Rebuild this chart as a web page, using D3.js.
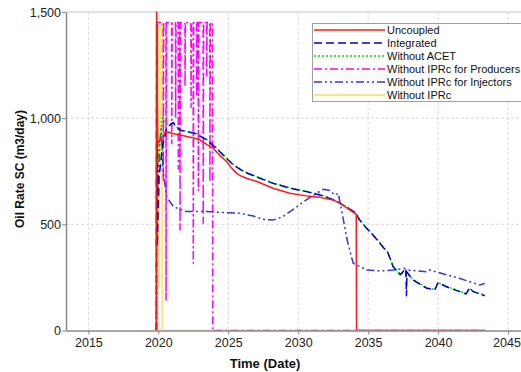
<!DOCTYPE html>
<html>
<head>
<meta charset="utf-8">
<script src="https://cdn.jsdelivr.net/npm/d3@7"></script>
<style>
  html, body { margin: 0; padding: 0; background: #fff; }
  svg { display: block; font-family: "Liberation Sans", Arial, sans-serif; }
</style>
</head>
<body>
<svg id="chart" width="521" height="372"></svg>
<script>
// ---- data: [year, oil rate (m3/day)] ----
const yTicks = [0, 500, 1000, 1500];
const xTicks = [2015, 2020, 2025, 2030, 2035, 2040, 2045];

const uncoupled = [
  [2019.86, 0], [2019.88, 1500], [2019.95, 880], [2020.2, 905], [2020.5, 934], [2020.7, 935],
  [2021.0, 928], [2021.55, 921], [2022.6, 905], [2023.0, 897], [2023.5, 874], [2023.9, 860],
  [2024.4, 825], [2024.9, 795], [2025.2, 768], [2025.6, 740], [2025.9, 728], [2026.3, 717],
  [2027.0, 703], [2028.2, 670], [2029.4, 646], [2030.6, 634], [2031.55, 627], [2032.5, 615],
  [2033.0, 599], [2034.05, 552], [2034.15, 548], [2034.17, 0], [2043.4, 0]
];

const integrated = [
  [2019.86, 0], [2019.88, 1440], [2019.93, 400], [2020.05, 720], [2020.3, 870], [2020.6, 955],
  [2021.07, 979], [2021.55, 943], [2022.6, 929], [2023.5, 897], [2024.4, 842], [2025.36, 780],
  [2026.1, 748], [2027.0, 724], [2028.2, 693], [2029.4, 670], [2030.6, 654], [2031.55, 638],
  [2032.1, 626], [2032.5, 616], [2033.0, 599], [2034.05, 557], [2034.4, 520], [2034.89, 481],
  [2035.24, 458], [2035.84, 411], [2036.43, 364], [2036.79, 300], [2037.3, 263], [2037.7, 293],
  [2037.74, 164], [2037.78, 275], [2038.2, 238], [2039.2, 199], [2039.76, 191], [2040.0, 225],
  [2040.6, 206], [2041.55, 183], [2042.0, 172], [2042.26, 202], [2042.5, 183], [2043.34, 164]
];

const withoutAcet = [
  [2019.87, 0], [2019.89, 1440], [2019.95, 780], [2020.1, 900], [2020.3, 1010], [2020.6, 970],
  [2021.0, 976], [2021.55, 945], [2022.6, 931], [2023.5, 899], [2024.4, 844], [2025.36, 782],
  [2026.1, 750], [2027.0, 726], [2028.2, 695], [2029.4, 672], [2030.6, 656], [2031.55, 640],
  [2032.1, 628], [2032.5, 617], [2033.0, 600], [2034.05, 558], [2034.4, 522], [2034.89, 483],
  [2035.24, 460], [2035.84, 413], [2036.43, 366], [2036.79, 302], [2037.3, 266], [2037.7, 275],
  [2038.2, 240], [2039.2, 201], [2039.76, 193], [2040.0, 226], [2040.6, 208], [2041.55, 185],
  [2042.0, 174], [2042.26, 198], [2042.5, 185], [2043.34, 166]
];

// drops of the producer-IPR case: [year, lowest rate reached]
const producerDrops = [
  [2020.36, 700], [2020.55, 144], [2020.96, 880], [2021.24, 1000], [2021.43, 760],
  [2021.55, 473], [2021.91, 1150], [2022.34, 1050], [2022.5, 317], [2022.74, 1100],
  [2022.86, 660], [2023.21, 505], [2023.46, 1200], [2023.69, 700]
];
const producerStart = [[2019.87, 0], [2019.89, 1450]];
const producerEnd = [[2023.87, 1450], [2023.89, 0], [2043.4, 0]];

const withoutInjectors = [
  [2019.87, 0], [2019.89, 1440], [2019.95, 650], [2020.1, 880], [2020.2, 950], [2020.36, 740],
  [2020.6, 630], [2021.07, 583], [2022.0, 560], [2023.46, 560], [2024.9, 555], [2025.8, 552],
  [2026.8, 539], [2027.5, 524], [2028.2, 520], [2028.9, 536], [2029.6, 568], [2030.4, 607],
  [2031.1, 638], [2031.8, 665], [2032.3, 659], [2032.6, 638], [2032.86, 646], [2033.1, 568],
  [2033.5, 426], [2033.93, 317], [2034.9, 285], [2035.84, 280], [2036.8, 285], [2037.68, 293],
  [2037.72, 261], [2037.76, 285], [2039.2, 277], [2039.4, 285], [2040.1, 272], [2041.5, 246],
  [2043.0, 214], [2043.34, 222]
];

const withoutIprc = [
  [2019.86, 0], [2019.88, 1450], [2019.91, 300], [2019.93, 1450], [2019.96, 600], [2019.98, 1450],
  [2020.01, 400], [2020.03, 1450], [2020.07, 200], [2020.09, 1450], [2020.13, 750], [2020.15, 1450],
  [2020.2, 900], [2020.22, 1450], [2020.28, 1450], [2020.29, 0], [2043.4, 0]
];

// assemble the producer series from its drops
const withoutProducers = producerStart.slice();
producerDrops.forEach(([t, low]) => {
  withoutProducers.push([t - 0.01, 1450], [t, low], [t + 0.03, 1450]);
});
producerEnd.forEach(p => withoutProducers.push(p));

const series = [
  { name: "Uncoupled", data: uncoupled, color: "#ff1a1a", dash: null, width: 1.5, z: 5 },
  { name: "Integrated", data: integrated, color: "#0000c8", dash: "8,4", width: 1.5, z: 4 },
  { name: "Without ACET", data: withoutAcet, color: "#00dd00", dash: "2,2", width: 1.5, z: 3 },
  { name: "Without IPRc for Producers", data: withoutProducers, color: "#ff00ff", dash: "8,3,2,3", width: 1.5, z: 1 },
  { name: "Without IPRc for Injectors", data: withoutInjectors, color: "#3535d8", dash: "8,3,2,3,2,3", width: 1.5, z: 2 },
  { name: "Without IPRc", data: withoutIprc, color: "#f9e48c", dash: null, width: 2, z: 0 }
];

// ---- layout ----
const svg = d3.select("#chart");
const plot = { left: 66, right: 521, top: 12, bottom: 330.5 };

const x = d3.scaleLinear().domain([2013.4, 2045.93]).range([plot.left, plot.right]);
const y = d3.scaleLinear().domain([0, 1500]).range([plot.bottom, plot.top]);

svg.append("defs").append("clipPath").attr("id", "plotClip")
  .append("rect")
  .attr("x", plot.left).attr("y", plot.top - 1)
  .attr("width", plot.right - plot.left).attr("height", plot.bottom - plot.top + 1);

// grid
const grid = svg.append("g");
grid.selectAll("line.vg").data(xTicks).join("line")
  .attr("x1", d => x(d)).attr("x2", d => x(d))
  .attr("y1", plot.top).attr("y2", plot.bottom)
  .attr("stroke", "#dadada").attr("stroke-width", 1).attr("stroke-dasharray", "3,2");
grid.selectAll("line.hg").data(yTicks.filter(v => v > 0 && v < 1500)).join("line")
  .attr("x1", plot.left).attr("x2", plot.right)
  .attr("y1", d => y(d)).attr("y2", d => y(d))
  .attr("stroke", "#dadada").attr("stroke-width", 1).attr("stroke-dasharray", "3,2");
grid.append("line")
  .attr("x1", plot.left).attr("x2", plot.right)
  .attr("y1", y(1500)).attr("y2", y(1500))
  .attr("stroke", "#c8c8c8").attr("stroke-width", 1);

// series, drawn back to front
const line = d3.line().x(d => x(d[0])).y(d => y(d[1]));
const lines = svg.append("g").attr("clip-path", "url(#plotClip)");
series.slice().sort((a, b) => a.z - b.z).forEach(s => {
  lines.append("path")
    .datum(s.data)
    .attr("fill", "none")
    .attr("stroke", s.color)
    .attr("stroke-width", s.width)
    .attr("stroke-dasharray", s.dash)
    .attr("stroke-linejoin", "round")
    .attr("d", line);
});

// axes
const yAxis = svg.append("g")
  .attr("transform", `translate(${plot.left},0)`)
  .call(d3.axisLeft(y).tickValues(yTicks).tickFormat(d3.format(",")).tickSize(4).tickSizeOuter(0));
const xAxis = svg.append("g")
  .attr("transform", `translate(0,${plot.bottom})`)
  .call(d3.axisBottom(x).tickValues(xTicks).tickFormat(d3.format("d")).tickSize(4).tickSizeOuter(0));
[yAxis, xAxis].forEach(a => {
  a.select(".domain").attr("stroke", "#8a8a8a").attr("stroke-width", 1.5);
  a.selectAll(".tick line").attr("stroke", "#8a8a8a");
  a.selectAll(".tick text")
    .attr("fill", "#222")
    .style("font-size", "12.5px")
    .style("font-family", "'Liberation Sans', Arial, sans-serif");
});
yAxis.selectAll(".tick text").attr("x", -5);
xAxis.selectAll(".tick text").attr("y", 8);
xAxis.selectAll(".tick text").filter(d => d === 2045).attr("dx", -1.5);

// titles
svg.append("text")
  .attr("transform", `translate(24,169) rotate(-90)`)
  .attr("text-anchor", "middle")
  .style("font-size", "12px").style("font-weight", "bold").attr("fill", "#111")
  .text("Oil Rate SC (m3/day)");
svg.append("text")
  .attr("x", 265).attr("y", 368)
  .attr("text-anchor", "middle")
  .style("font-size", "13px").style("font-weight", "bold").attr("fill", "#111")
  .text("Time (Date)");

// legend
const legend = svg.append("g");
legend.append("rect")
  .attr("x", 312.5).attr("y", 23.5).attr("width", 215).attr("height", 78)
  .attr("fill", "#fff").attr("stroke", "#a0a0a0").attr("stroke-width", 1);
series.forEach((s, i) => {
  const yy = 30 + i * 13;
  legend.append("line")
    .attr("x1", 314).attr("x2", 385).attr("y1", yy).attr("y2", yy)
    .attr("stroke", s.color).attr("stroke-width", s.width)
    .attr("stroke-dasharray", s.dash);
  legend.append("text")
    .attr("x", 387).attr("y", yy + 4)
    .style("font-size", "11px").attr("fill", "#111")
    .text(s.name);
});
</script>
</body>
</html>
